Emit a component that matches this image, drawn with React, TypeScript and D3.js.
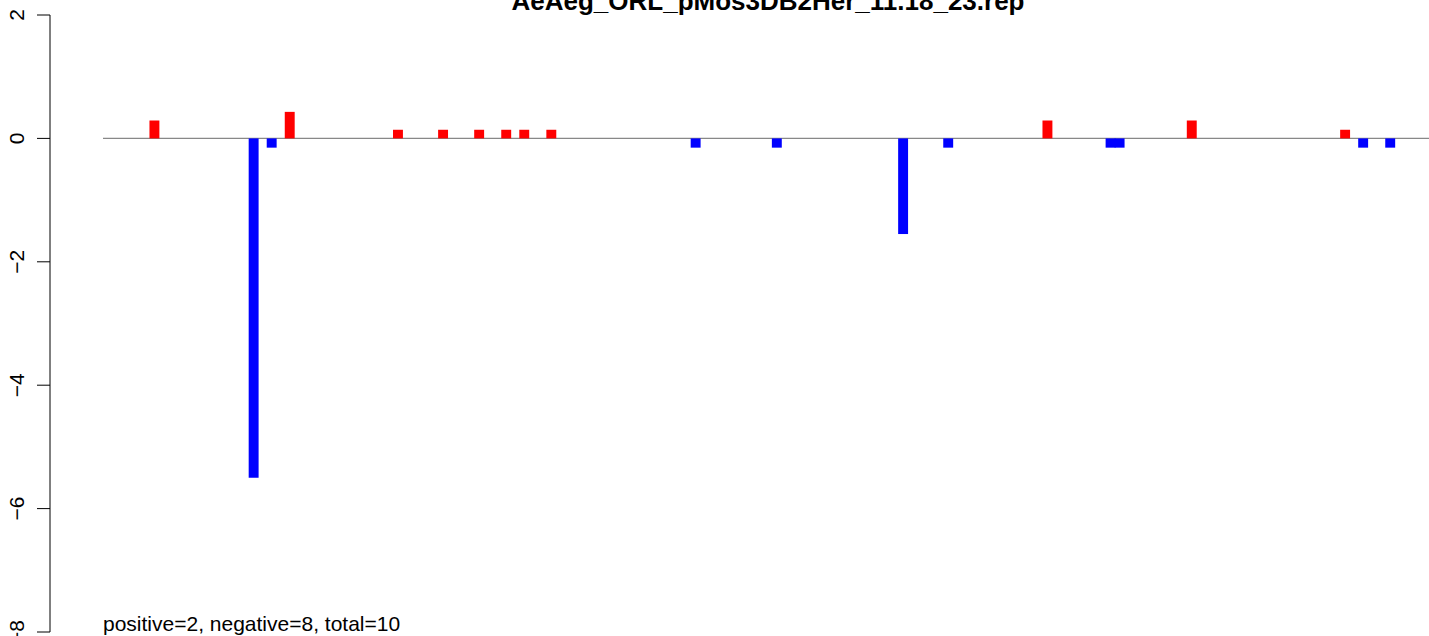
import React, { useEffect, useRef } from 'react'
import * as d3 from 'd3'

// bar positions (index along the track) and scores
const positions = [5, 16, 18, 20, 32, 37, 41, 44, 46, 49, 65, 74, 88, 93, 104, 111, 112, 120, 137, 139, 142]
const scores = [0.29, -5.5, -0.15, 0.43, 0.14, 0.14, 0.14, 0.14, 0.14, 0.14, -0.15, -0.15, -1.55, -0.15, 0.29, -0.15, -0.15, 0.29, 0.14, -0.15, -0.15]
const yTicks = [2, 0, -2, -4, -6, -8]
const title = 'AeAeg_ORL_pMos3DB2Her_11.18_23.rep'
const footer = 'positive=2, negative=8, total=10'

const W = 1429
const H = 636

export default function App() {
  const svgRef = useRef<SVGSVGElement>(null)

  useEffect(() => {
    if (!svgRef.current) return
    const svg = d3.select(svgRef.current)
    svg.selectAll('*').remove()

    const font = "'Liberation Sans', Arial, Helvetica, sans-serif"

    const x = d3.scaleLinear().domain([-0.7, 146.3]).range([103, W])
    const y = d3.scaleLinear().domain([-8, 2]).range([632, 15])
    const half = 0.55

    // zero line
    svg.append('line')
      .attr('x1', x(-0.7))
      .attr('x2', x(146.3))
      .attr('y1', y(0))
      .attr('y2', y(0))
      .attr('stroke', '#888')
      .attr('stroke-width', 1.2)

    // bars
    svg.selectAll('.bar')
      .data(positions.map((p, i) => ({ p, v: scores[i] })))
      .enter()
      .append('rect')
      .attr('class', 'bar')
      .attr('x', d => x(d.p - half))
      .attr('width', d => x(d.p + half) - x(d.p - half))
      .attr('y', d => y(Math.max(0, d.v)))
      .attr('height', d => Math.abs(y(d.v) - y(0)))
      .attr('fill', d => (d.v > 0 ? '#ff0000' : '#0000ff'))

    // y axis
    const axis = svg.append('g').attr('transform', 'translate(50,0)')
    axis.append('line')
      .attr('x1', 0).attr('x2', 0)
      .attr('y1', y(2)).attr('y2', y(-8))
      .attr('stroke', '#000')
    axis.selectAll('.tick')
      .data(yTicks)
      .enter()
      .append('line')
      .attr('x1', -13).attr('x2', 0)
      .attr('y1', d => y(d)).attr('y2', d => y(d))
      .attr('stroke', '#000')
    axis.selectAll('.lbl')
      .data(yTicks)
      .enter()
      .append('text')
      .attr('transform', d => `translate(-26,${y(d)}) rotate(-90)`)
      .attr('text-anchor', 'middle')
      .style('font-family', font)
      .style('font-size', '21px')
      .text(d => (d < 0 ? '\u2212' + Math.abs(d) : String(d)))

    // title
    svg.append('text')
      .attr('x', 768)
      .attr('y', 10)
      .attr('text-anchor', 'middle')
      .style('font-family', font)
      .style('font-size', '26px')
      .style('font-weight', 'bold')
      .text(title)

    // footer
    svg.append('text')
      .attr('x', 103)
      .attr('y', 631)
      .style('font-family', font)
      .style('font-size', '21px')
      .text(footer)
  }, [])

  return (
    <svg
      ref={svgRef}
      width={W}
      height={H}
      style={{ position: 'absolute', left: 0, top: 0, background: '#fff' }}
    />
  )
}
